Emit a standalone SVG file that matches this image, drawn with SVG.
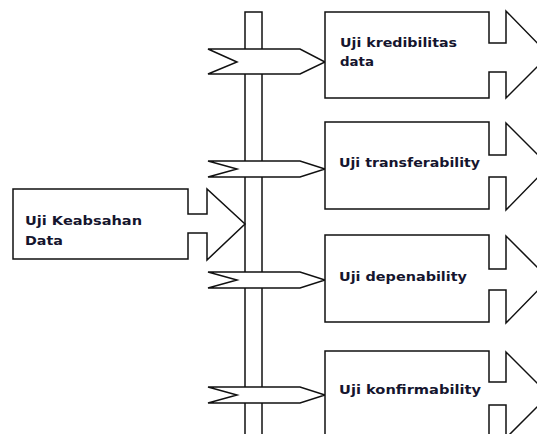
<svg xmlns="http://www.w3.org/2000/svg" width="537" height="434" viewBox="0 0 537 434">
<style>
.s{fill:#fff;stroke:#111;stroke-width:1.5;stroke-linejoin:miter}
.t{font-family:"DejaVu Sans",Verdana,sans-serif;font-weight:bold;font-size:13px;fill:#15152e}
</style>
<rect width="537" height="434" fill="#fff"/>
<g id="bar"><rect class="s" x="245" y="12" width="17" height="430"/></g>
<g id="connectors">
<path class="s" d="M208,49 H300 L325,62 L300,74 H208 L237,62 Z"/>
<path class="s" d="M208,161 H300 L325,169 L300,177 H208 L237,169 Z"/>
<path class="s" d="M208,272 H300 L325,280 L300,288 H208 L237,280 Z"/>
<path class="s" d="M208,387 H300 L325,395 L300,403 H208 L237,395 Z"/>
</g>
<g id="keabsahan">
<path class="s" d="M13,189 H188 V214 H207 V189 L245,224 L207,260 V233 H188 V259 H13 Z"/>
<text class="t" x="25" y="225" textLength="117" lengthAdjust="spacingAndGlyphs">Uji Keabsahan</text>
<text class="t" x="25" y="245" textLength="38" lengthAdjust="spacingAndGlyphs">Data</text>
</g>
<g id="kredibilitas">
<path class="s" d="M325,12 H489 V43 H506 V11 L549,55 L506,98 V72 H489 V98 H325 Z"/>
<text class="t" x="340" y="47" textLength="117" lengthAdjust="spacingAndGlyphs">Uji kredibilitas</text>
<text class="t" x="340" y="66" textLength="34" lengthAdjust="spacingAndGlyphs">data</text>
</g>
<g id="transferability">
<path class="s" d="M325,122 H489 V155 H506 V123 L549,166 L506,210 V177 H489 V209 H325 Z"/>
<text class="t" x="339" y="167" textLength="141" lengthAdjust="spacingAndGlyphs">Uji transferability</text>
</g>
<g id="depenability">
<path class="s" d="M325,235 H489 V269 H506 V236 L549,279 L506,323 V290 H489 V322 H325 Z"/>
<text class="t" x="339" y="281" textLength="128" lengthAdjust="spacingAndGlyphs">Uji depenability</text>
</g>
<g id="konfirmability">
<path class="s" d="M325,351 H489 V382 H506 V352 L549,395 L506,438 V405 H489 V445 H325 Z"/>
<text class="t" x="339" y="394" textLength="142" lengthAdjust="spacingAndGlyphs">Uji konfirmability</text>
</g>
</svg>
